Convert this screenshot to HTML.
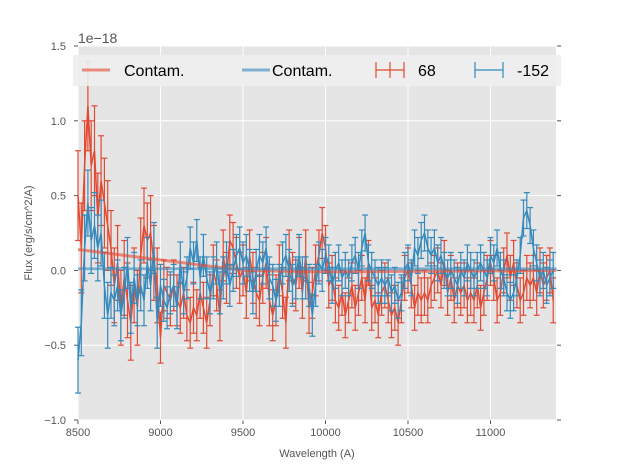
<!DOCTYPE html>
<html><head><meta charset="utf-8"><style>body{margin:0;background:#fff}svg{display:block;font-family:"Liberation Sans",sans-serif}</style></head>
<body>
<svg id="chart" width="617" height="467" viewBox="0 0 617 467"></svg>
<script>
const wlStart = 8500, wlStep = 20;
const redFlux = [0.5,0.15,0.7,1.1,0.7,0.8,0.35,0.6,0.45,0.3,0.15,-0.1,0.05,-0.25,-0.05,-0.2,-0.35,-0.1,-0.25,0.1,0.3,0.2,0.25,0.05,-0.1,-0.45,-0.1,-0.15,-0.2,-0.1,-0.2,-0.25,-0.15,-0.3,-0.35,-0.25,-0.3,-0.15,-0.25,-0.35,-0.2,0.0,-0.1,-0.3,0.1,-0.05,0.2,0.15,0.05,-0.05,0.0,-0.15,0.1,-0.05,-0.15,-0.2,-0.05,0.05,-0.2,-0.3,-0.2,0.0,-0.15,-0.35,0.1,-0.05,-0.1,0.05,-0.15,0.1,-0.25,-0.15,0.0,0.1,0.25,0.15,-0.1,-0.05,-0.2,-0.25,-0.15,-0.3,-0.2,-0.1,-0.25,-0.15,-0.05,-0.2,0.05,-0.25,-0.2,-0.3,-0.15,-0.1,-0.2,-0.3,-0.25,-0.35,-0.2,-0.05,0.0,-0.1,-0.25,-0.15,-0.2,-0.15,-0.2,-0.1,-0.05,0.0,-0.1,0.05,-0.15,-0.05,-0.2,-0.1,-0.15,-0.1,-0.2,-0.15,-0.2,-0.1,-0.25,-0.15,-0.05,0.05,-0.05,-0.2,-0.15,0.0,0.1,-0.05,0.05,-0.1,-0.2,-0.15,-0.05,-0.1,-0.05,-0.15,0.0,-0.1,-0.05,0.0,-0.2];
const blueFlux = [-0.6,-0.35,0.15,0.45,0.2,0.3,0.15,0.25,-0.1,-0.3,-0.15,-0.2,-0.1,-0.3,-0.15,0.05,-0.25,-0.05,-0.2,-0.1,-0.2,0.05,-0.1,0.15,-0.35,-0.1,-0.2,-0.25,-0.15,-0.1,-0.25,0.05,-0.15,-0.05,0.15,0.05,0.2,-0.05,0.1,-0.05,-0.15,-0.05,0.05,-0.15,-0.05,0.05,-0.1,0.0,0.1,0.15,0.05,0.1,0.0,-0.15,0.0,0.1,0.05,0.15,-0.05,-0.1,-0.2,-0.1,0.05,0.1,0.0,-0.1,-0.05,0.1,-0.05,-0.05,-0.1,-0.3,-0.1,0.05,0.0,0.1,0.05,-0.1,0.0,0.05,-0.05,0.0,-0.05,0.05,0.1,0.0,0.15,0.25,0.05,0.0,-0.05,-0.1,-0.05,-0.1,-0.05,-0.15,-0.1,-0.2,-0.15,0.0,0.05,-0.05,0.15,0.1,0.2,0.25,0.15,0.1,0.15,0.05,0.1,0.0,-0.05,0.0,-0.05,-0.1,0.0,-0.05,0.05,0.0,-0.05,0.0,0.05,0.0,-0.05,0.1,0.05,0.15,0.0,-0.05,-0.15,-0.2,-0.15,-0.05,0.1,0.35,0.4,0.3,0.15,0.05,-0.05,0.0,-0.1,-0.05,0.0];
const errBandEdges = [8500, 8700, 9000, 10000, 11400];
const redErr = [0.3, 0.25, 0.17, 0.15];
const blueErr = [0.22, 0.17, 0.14, 0.12];
const redContamWl = [8500, 9000, 9500, 10000, 11400];
const redContam = [0.14, 0.07, 0.0, -0.01, 0.0];
const blueContamWl = [8500, 11400];
const blueContam = [0.01, 0.01];
const xTicks = [8500, 9000, 9500, 10000, 10500, 11000];
const yTicks = [-1.0, -0.5, 0.0, 0.5, 1.0, 1.5];
const yTickLabels = ["\u22121.0","\u22120.5","0.0","0.5","1.0","1.5"];

const L=78,R=556,T=46,B=420, X0=8500,X1=11397, Y0=-1,Y1=1.5;
const sx=v=>L+(v-X0)/(X1-X0)*(R-L);
const sy=v=>B-(v-Y0)/(Y1-Y0)*(B-T);
const svg=document.getElementById('chart');
const NS='http://www.w3.org/2000/svg';
function mk(tag,at,parent){const e=document.createElementNS(NS,tag);for(const k in at)e.setAttribute(k,at[k]);(parent||svg).appendChild(e);return e;}
function errFor(arr,wl){for(let i=0;i<arr.length;i++){if(wl<errBandEdges[i+1])return arr[i];}return arr[arr.length-1];}

let bg=mk('rect',{x:L,y:T,width:R-L,height:B-T,fill:'#E5E5E5'});


xTicks.forEach((t,i)=>{
  let g=mk('line',{x1:sx(t),x2:sx(t),y1:T,y2:B,stroke:'#fff','stroke-width':1});
  
  
  mk('line',{x1:sx(t),x2:sx(t),y1:B,y2:B+4,stroke:'#555'});
  let tx=mk('text',{x:sx(t),y:B+16,'text-anchor':'middle','font-size':11,fill:'#555'});
  tx.textContent=t;
  
  
});
yTicks.forEach((t,i)=>{
  let g=mk('line',{x1:L,x2:R,y1:sy(t),y2:sy(t),stroke:'#fff','stroke-width':1});
  
  
  mk('line',{x1:L-4,x2:L,y1:sy(t),y2:sy(t),stroke:'#555'});
  mk('line',{x1:R+1,x2:R+5,y1:sy(t),y2:sy(t),stroke:'#555'});
  let tx=mk('text',{x:L-12,y:sy(t)+4,'text-anchor':'end','font-size':11,fill:'#555'});
  tx.textContent=yTickLabels[i];
  
  
});
function series(flux,errs,color,name){
  const g=mk('g',{});
  
  
  let pts=[];
  flux.forEach((v,i)=>{
    const w=wlStart+i*wlStep, x=sx(w), e=errFor(errs,w);
    mk('line',{x1:x,x2:x,y1:sy(v-e),y2:sy(v+e),stroke:color,'stroke-width':1.2},g);
    mk('line',{x1:x-3,x2:x+3,y1:sy(v-e),y2:sy(v-e),stroke:color,'stroke-width':1.2},g);
    mk('line',{x1:x-3,x2:x+3,y1:sy(v+e),y2:sy(v+e),stroke:color,'stroke-width':1.2},g);
    pts.push(x.toFixed(1)+','+sy(v).toFixed(1));
  });
  mk('polyline',{points:pts.join(' '),fill:'none',stroke:color,'stroke-width':1.5},g);
}
series(redFlux,redErr,'#E24A33','series-68');
series(blueFlux,blueErr,'#348ABD','series-minus152');
function contam(wl,v,color,name){
  const p=mk('polyline',{points:wl.map((w,i)=>sx(w)+','+sy(v[i])).join(' '),fill:'none',stroke:color,'stroke-width':3,'stroke-opacity':0.6});
  
  
}
contam(redContamWl,redContam,'#E24A33','contam-line-red');
contam(blueContamWl,blueContam,'#348ABD','contam-line-blue');
</script>
<svg width="0" height="0"></svg>
<script>
const s=document.getElementById('chart');
s.insertAdjacentHTML('beforeend',`
<text x="78" y="43" font-size="14" fill="#555">1e\u221218</text>
<text x="317" y="457" text-anchor="middle" font-size="11" fill="#555">Wavelength (A)</text>
<text transform="translate(32,233) rotate(-90)" text-anchor="middle" font-size="11" fill="#555">Flux (erg/s/cm^2/A)</text>
<g>
<rect x="73" y="55" width="488" height="31" fill="#EEEEEE" fill-opacity="0.9"/>
<line x1="82" x2="110" y1="70" y2="70" stroke="#E24A33" stroke-width="3" stroke-opacity="0.6"/>
<text x="124" y="76" font-size="16" fill="#000">Contam.</text>
<line x1="242" x2="270" y1="70" y2="70" stroke="#348ABD" stroke-width="3" stroke-opacity="0.6"/>
<text x="272" y="76" font-size="16" fill="#000">Contam.</text>
<g stroke="#E24A33" stroke-width="1.2"><line x1="376" x2="404" y1="70" y2="70"/><line x1="390" x2="390" y1="62" y2="78"/><line x1="376" x2="376" y1="62" y2="78"/><line x1="404" x2="404" y1="62" y2="78"/></g>
<text x="418" y="76" font-size="16" fill="#000">68</text>
<g stroke="#348ABD" stroke-width="1.2"><line x1="475" x2="503" y1="70" y2="70"/><line x1="475" x2="475" y1="62" y2="78"/><line x1="503" x2="503" y1="62" y2="78"/></g>
<text x="517" y="76" font-size="16" fill="#000">-152</text>
</g>`);
</script>
</body></html>
